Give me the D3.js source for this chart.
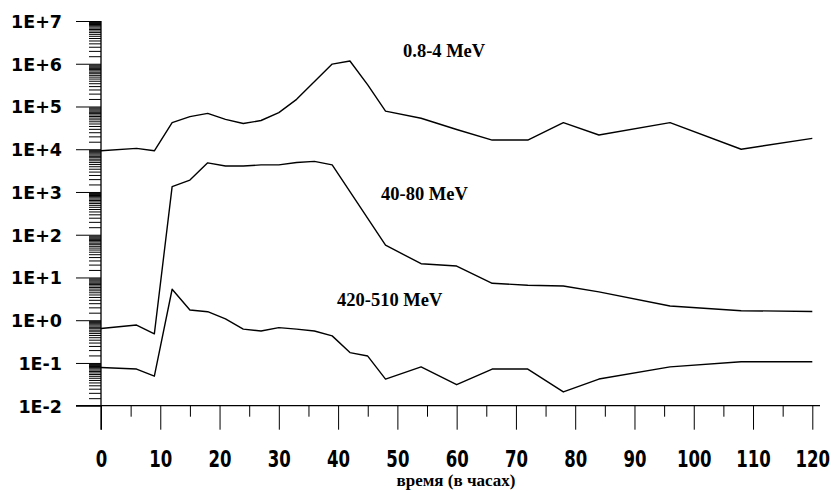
<!DOCTYPE html>
<html>
<head>
<meta charset="utf-8">
<script src="https://cdn.jsdelivr.net/npm/d3@7"></script>
<style>
  body { margin: 0; background: #fff; }
  .y-lab { font-family: "DejaVu Sans", Verdana, sans-serif; font-weight: bold; font-size: 17.5px; }
  .x-lab { font-family: "DejaVu Sans", Verdana, sans-serif; font-weight: bold; font-size: 23px; }
  .serif { font-family: "Liberation Serif", "Times New Roman", serif; font-weight: bold; }
</style>
</head>
<body>
<div id="chart"></div>
<script>
// hours since start
var hours_low  = [0, 6, 9, 12, 15, 18, 21, 24, 27, 30, 33, 39, 42, 45, 48, 54, 60, 66, 72, 78, 84, 96, 108, 120];
var flux_low   = [9.2e3, 1.05e4, 9.2e3, 4.2e4, 5.8e4, 6.9e4, 5.0e4, 4.0e4, 4.7e4, 7.2e4, 1.47e5, 9.8e5, 1.16e6,
                  3.2e5, 7.8e4, 5.3e4, 2.9e4, 1.64e4, 1.64e4, 4.2e4, 2.15e4, 4.2e4, 1.0e4, 1.8e4];

var hours_mid  = [0, 6, 9, 12, 15, 18, 21, 24, 27, 30, 33, 36, 39, 48, 54, 60, 66, 72, 78, 84, 96, 108, 120];
var flux_mid   = [0.64, 0.77, 0.48, 1.33e3, 1.9e3, 4.8e3, 4.05e3, 4.05e3, 4.3e3, 4.3e3, 4.9e3, 5.2e3, 4.3e3,
                  57, 21, 18.5, 7.3, 6.6, 6.3, 4.6, 2.15, 1.67, 1.6];

var hours_high = [0, 6, 9, 12, 15, 18, 21, 24, 27, 30, 33, 36, 39, 42, 45, 48, 54, 60, 66, 72, 78, 84, 96, 108, 120];
var flux_high  = [0.078, 0.072, 0.049, 5.3, 1.73, 1.58, 1.07, 0.62, 0.56, 0.67, 0.62, 0.56, 0.43, 0.175, 0.145,
                  0.042, 0.081, 0.031, 0.072, 0.072, 0.021, 0.042, 0.081, 0.107, 0.107];

var series_names = ["0.8-4 MeV", "40-80 MeV", "420-510 MeV"];
var x_ticks = [0, 10, 20, 30, 40, 50, 60, 70, 80, 90, 100, 110, 120];
var x_minor = [5, 15, 25, 35, 45, 55, 65, 75, 85, 95, 105, 115];
var y_ticks = [1e-2, 1e-1, 1e0, 1e1, 1e2, 1e3, 1e4, 1e5, 1e6, 1e7];
var x_title = "время (в часах)";

var width = 832, height = 491;
var x = d3.scaleLinear().domain([0, 120]).range([101, 812.3]);
var y = d3.scaleLog().domain([1e-2, 1e7]).range([405.7, 21]);

var svg = d3.select("#chart").append("svg")
    .attr("width", width)
    .attr("height", height);

// minor log ticks inside every decade
var y_minor = [];
y_ticks.slice(0, -1).forEach(function(d) {
    for (var k = 1.5; k < 10; k += 0.5) y_minor.push(d * k);
});

var fmt = function(d) {
    var e = Math.round(Math.log10(d));
    return "1E" + (e >= 0 ? "+" : "") + e;
};

// y axis
svg.append("g")
    .attr("transform", "translate(101,0)")
    .call(d3.axisLeft(y).tickValues(y_minor).tickSize(12).tickSizeOuter(0).tickFormat(""))
    .call(g => g.select(".domain").remove());
var yAx = svg.append("g")
    .attr("transform", "translate(101,0)")
    .call(d3.axisLeft(y).tickValues(y_ticks).tickSize(25).tickSizeOuter(0).tickFormat(fmt));
yAx.select(".domain").remove();
yAx.selectAll("text").attr("class", "y-lab").attr("x", -39).attr("dy", "0.36em").attr("fill", "#000");
svg.append("line")
    .attr("x1", 101).attr("x2", 101)
    .attr("y1", y(1e7)).attr("y2", y(1e-2) + 24)
    .attr("stroke", "#000").attr("stroke-width", 1.3);

// x axis
svg.append("g")
    .attr("transform", "translate(0," + y(1e-2) + ")")
    .call(d3.axisBottom(x).tickValues(x_minor).tickSize(11).tickSizeOuter(0).tickFormat(""))
    .call(g => g.select(".domain").remove());
var xAx = svg.append("g")
    .attr("transform", "translate(0," + y(1e-2) + ")")
    .call(d3.axisBottom(x).tickValues(x_ticks).tickSize(24).tickSizeOuter(0).tickFormat(d3.format("d")));
xAx.select(".domain").remove();
// narrow the digits, the original uses a condensed face
xAx.selectAll("text").attr("class", "x-lab").attr("y", 61).attr("dy", 0).attr("fill", "#000")
    .attr("transform", "scale(0.72,1)");
svg.append("line")
    .attr("x1", 76).attr("x2", 820)
    .attr("y1", y(1e-2)).attr("y2", y(1e-2))
    .attr("stroke", "#000").attr("stroke-width", 1.3);

svg.selectAll(".tick line").attr("stroke", "#000").attr("stroke-width", 1);

svg.append("text")
    .attr("class", "serif")
    .attr("x", 456).attr("y", 486)
    .attr("text-anchor", "middle")
    .style("font-size", "17px")
    .text(x_title);

// curves
var line = d3.line().x(d => x(d[0])).y(d => y(d[1]));
var curves = [
    d3.zip(hours_low, flux_low),
    d3.zip(hours_mid, flux_mid),
    d3.zip(hours_high, flux_high)
];
svg.selectAll(".curve").data(curves).enter().append("path")
    .attr("class", "curve")
    .attr("d", line)
    .attr("fill", "none")
    .attr("stroke", "#000")
    .attr("stroke-width", 1.4)
    .attr("stroke-linejoin", "round");

// labels for the curves
var label_pos = [[403, 56.5], [381, 200], [337, 305.5]];
svg.selectAll(".lbl").data(series_names).enter().append("text")
    .attr("class", "serif lbl")
    .attr("x", (d, i) => label_pos[i][0])
    .attr("y", (d, i) => label_pos[i][1])
    .style("font-size", "18.5px")
    .text(d => d);
</script>
</body>
</html>
